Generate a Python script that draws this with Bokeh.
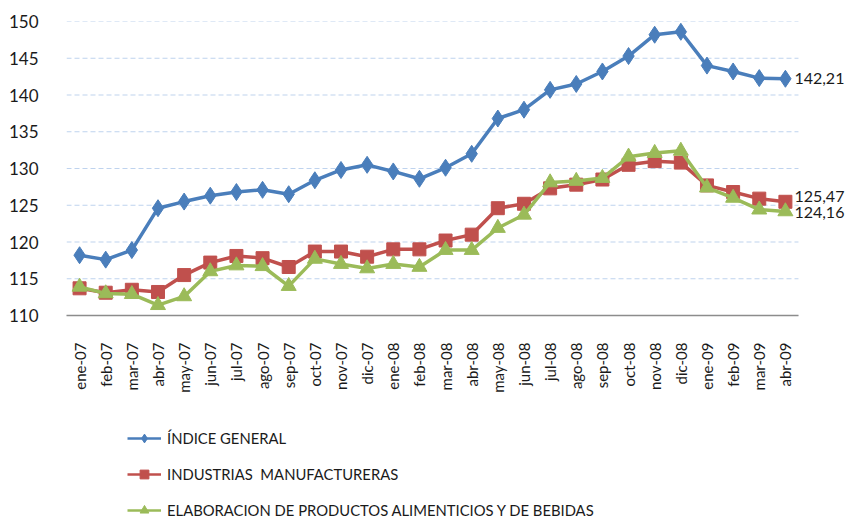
from bokeh.plotting import figure
from bokeh.layouts import column
from bokeh.models import Legend, LegendItem, FixedTicker, Label, Range1d
from bokeh.embed import file_html
from bokeh.resources import INLINE

months = ["ene-07", "feb-07", "mar-07", "abr-07", "may-07", "jun-07", "jul-07",
          "ago-07", "sep-07", "oct-07", "nov-07", "dic-07", "ene-08", "feb-08",
          "mar-08", "abr-08", "may-08", "jun-08", "jul-08", "ago-08", "sep-08",
          "oct-08", "nov-08", "dic-08", "ene-09", "feb-09", "mar-09", "abr-09"]

indice_general = [118.2, 117.6, 118.9, 124.6, 125.5, 126.3, 126.8, 127.1, 126.5,
                  128.4, 129.8, 130.5, 129.6, 128.6, 130.1, 132.0, 136.8, 138.0,
                  140.7, 141.5, 143.2, 145.3, 148.2, 148.6, 144.0, 143.2, 142.3,
                  142.21]
industrias = [113.7, 113.1, 113.5, 113.2, 115.5, 117.2, 118.1, 117.8, 116.6,
              118.7, 118.7, 118.0, 119.0, 119.0, 120.2, 121.0, 124.6, 125.2,
              127.3, 127.8, 128.5, 130.5, 131.0, 130.8, 127.7, 126.8, 125.9,
              125.47]
alimentos = [113.9, 113.0, 112.9, 111.4, 112.6, 116.0, 116.8, 116.7, 114.0,
             117.7, 117.0, 116.4, 117.0, 116.6, 118.9, 118.9, 121.9, 123.7,
             128.1, 128.3, 128.7, 131.6, 132.1, 132.4, 127.4, 126.0, 124.4,
             124.16]

series_labels = ["ÍNDICE GENERAL", "INDUSTRIAS  MANUFACTURERAS",
                 "ELABORACION DE PRODUCTOS ALIMENTICIOS Y DE BEBIDAS"]
y_ticks = [110, 115, 120, 125, 130, 135, 140, 145, 150]

FONT = "Lato"
xs = list(range(len(months)))
x_lo, x_hi = -0.5, len(months) - 0.5
LABEL_ROOM = 2.22  # extra x room (in category widths) for end-of-line value labels
BORDER_LEFT = 66

p = figure(width=856, height=410, x_range=Range1d(x_lo, x_hi + LABEL_ROOM),
           y_range=Range1d(110, 150), output_backend="svg", toolbar_location=None,
           min_border_left=BORDER_LEFT, min_border_right=0, min_border_top=21,
           min_border_bottom=95)
p.outline_line_color = None
p.background_fill_color = "white"
p.border_fill_color = "white"

# dashed horizontal gridlines limited to the category span
p.grid.visible = False
n = len(y_ticks)
p.segment(x0=[x_lo] * n, y0=y_ticks, x1=[x_hi] * n, y1=y_ticks,
          line_color="#bfd3ee", line_dash="5 3", line_width=1.2)

p.yaxis.ticker = FixedTicker(ticks=y_ticks)
p.yaxis.axis_line_color = None
p.yaxis.major_tick_line_color = None
p.yaxis.minor_tick_line_color = None
p.yaxis.major_label_standoff = 22
p.yaxis.major_label_text_font = FONT
p.yaxis.major_label_text_font_size = "17px"
p.yaxis.major_label_text_color = "#1a1a1a"

p.xaxis.ticker = FixedTicker(ticks=xs)
p.xaxis.bounds = (x_lo, x_hi)
p.xaxis.major_label_overrides = {i: m for i, m in zip(xs, months)}
p.xaxis.axis_line_color = "#8c8c8c"
p.xaxis.axis_line_width = 1.5
p.xaxis.major_tick_line_color = None
p.xaxis.minor_tick_line_color = None
p.xaxis.major_label_orientation = 1.5708
p.xaxis.major_label_standoff = 21
p.xaxis.major_label_text_font = FONT
p.xaxis.major_label_text_font_size = "15px"
p.xaxis.major_label_text_color = "#1a1a1a"

colors = ["#4a7ebb", "#c0504d", "#9bbb59"]
markers = ["diamond", "square", "triangle"]
sizes = [17, 13, 15]
data = [indice_general, industrias, alimentos]
label_dy = [0, 5, -1]

# legend-only figure below the chart (its renderers sit outside its view)
pl = figure(width=856, height=111, output_backend="svg", toolbar_location=None,
            x_axis_location=None, y_axis_location=None,
            x_range=Range1d(1000, 1001), y_range=Range1d(1000, 1001),
            min_border_left=BORDER_LEFT, min_border_right=0,
            min_border_top=0, min_border_bottom=0)
pl.outline_line_color = None
pl.grid.visible = False

items = []
for vals, col, mk, sz, lab, dy in zip(data, colors, markers, sizes, series_labels, label_dy):
    p.line(xs, vals, line_color=col, line_width=3.5)
    p.scatter(xs, vals, marker=mk, size=sz, fill_color=col, line_color=col)
    p.add_layout(Label(x=xs[-1], y=vals[-1], text=f"{vals[-1]:.2f}".replace(".", ","),
                       text_font=FONT, text_font_size="16px", text_color="#1a1a1a",
                       text_align="left", text_baseline="middle",
                       x_offset=9, y_offset=dy))
    l1 = pl.line(xs, vals, line_color=col, line_width=2.5)
    l2 = pl.scatter(xs, vals, marker=mk, fill_color=col, line_color=col)
    items.append(LegendItem(label=lab, renderers=[l1, l2]))

legend = Legend(items=items, location=(61, 0), orientation="vertical",
                glyph_width=34, glyph_height=22, label_height=17, spacing=14,
                label_standoff=6, padding=0, margin=0,
                border_line_color=None, background_fill_alpha=0,
                label_text_font=FONT, label_text_font_size="14.8px",
                label_text_color="#1a1a1a")
pl.add_layout(legend, "center")

layout = column(p, pl, spacing=0)
open("out.html", "w").write(file_html(layout, INLINE))
